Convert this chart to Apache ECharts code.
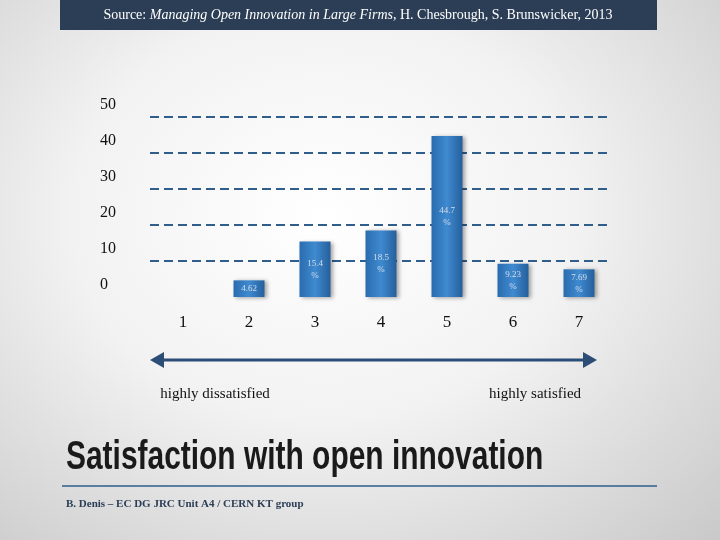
<!DOCTYPE html>
<html>
<head>
<meta charset="utf-8">
<script src="https://cdn.jsdelivr.net/npm/echarts@6/dist/echarts.min.js"></script>
<style>
  html, body { margin: 0; padding: 0; }
  body { background: radial-gradient(ellipse at 45% 40%, #ffffff 0%, #f2f2f2 45%, #c9c9c9 100%); }
  #chart { width: 720px; height: 540px; }
</style>
</head>
<body>
<div id="chart"></div>
<script>
// survey answers, 1 = highly dissatisfied ... 7 = highly satisfied
const categories = ['1', '2', '3', '4', '5', '6', '7'];
const shares = ['-', 4.62, 15.4, 18.5, 44.7, 9.23, 7.69];
const yTicks = [0, 10, 20, 30, 40, 50];

const chart = echarts.init(document.getElementById('chart'));
const serif = '"Liberation Serif", "DejaVu Serif", serif';

chart.setOption({
  animation: false,
  grid: { left: 150, right: 108, top: 117, bottom: 243 },
  xAxis: {
    type: 'category',
    data: categories,
    axisLine: { show: false },
    axisTick: { show: false },
    axisLabel: { color: '#111', fontFamily: serif, fontSize: 17, margin: 17 }
  },
  yAxis: {
    type: 'value',
    min: yTicks[0],
    max: yTicks[yTicks.length - 1],
    interval: 10,
    axisLine: { show: false },
    axisLabel: {
      color: '#111', fontFamily: serif, fontSize: 16,
      align: 'left', margin: 50, verticalAlign: 'bottom', padding: [0, 0, 4, 0]
    },
    splitLine: { showMinLine: false, lineStyle: { color: '#2f5d8c', type: [9, 5], width: 2 } }
  },
  series: [{
    type: 'bar',
    data: shares,
    barWidth: 31,
    itemStyle: {
      color: new echarts.graphic.LinearGradient(0, 0, 1, 0, [
        { offset: 0, color: '#2a6cae' },
        { offset: 0.5, color: '#3f8ad0' },
        { offset: 1, color: '#255f9c' }
      ]),
      shadowColor: 'rgba(0,0,0,0.35)', shadowBlur: 4, shadowOffsetX: 2, shadowOffsetY: 1
    },
    label: {
      show: true,
      position: 'inside',
      color: '#d8dde8',
      fontFamily: serif,
      fontSize: 9,
      lineHeight: 12,
      formatter: p => p.value >= 7 ? p.value + '\n%' : p.value
    }
  }],
  graphic: [
    { type: 'rect', shape: { x: 60, y: 0, width: 597, height: 30 }, style: { fill: '#2c3e56' } },
    { type: 'text', x: 358, y: 15, style: {
      text: '{n|Source: }{i|Managing Open Innovation in Large Firms}{n|, H. Chesbrough, S. Brunswicker, 2013}',
      align: 'center', verticalAlign: 'middle',
      rich: {
        n: { fill: '#fff', fontFamily: serif, fontSize: 14 },
        i: { fill: '#fff', fontFamily: serif, fontSize: 14, fontStyle: 'italic' }
      }
    } },
    { type: 'line', shape: { x1: 160, y1: 360, x2: 587, y2: 360 }, style: { stroke: '#2c4d75', lineWidth: 3 } },
    { type: 'polygon', shape: { points: [[150, 360], [164, 352], [164, 368]] }, style: { fill: '#2c4d75' } },
    { type: 'polygon', shape: { points: [[597, 360], [583, 352], [583, 368]] }, style: { fill: '#2c4d75' } },
    { type: 'text', x: 215, y: 394, style: { text: 'highly dissatisfied', align: 'center', verticalAlign: 'middle', fill: '#111', fontFamily: serif, fontSize: 15 } },
    { type: 'text', x: 535, y: 394, style: { text: 'highly satisfied', align: 'center', verticalAlign: 'middle', fill: '#111', fontFamily: serif, fontSize: 15 } },
    { type: 'text', x: 66, y: 458, scaleX: 0.73, style: {
      text: 'Satisfaction with open innovation', verticalAlign: 'middle', fill: '#1a1a1a',
      fontFamily: '"Liberation Sans", Arial, sans-serif', fontSize: 41, fontWeight: 'bold'
    } },
    { type: 'line', shape: { x1: 62, y1: 486, x2: 657, y2: 486 }, style: { stroke: '#2f5d8c', lineWidth: 1.5 } },
    { type: 'text', x: 66, y: 504, style: {
      text: 'B. Denis – EC DG JRC Unit A4 / CERN KT group', verticalAlign: 'middle', fill: '#2c3e56',
      fontFamily: serif, fontSize: 11, fontWeight: 'bold'
    } }
  ]
});
</script>
</body>
</html>
